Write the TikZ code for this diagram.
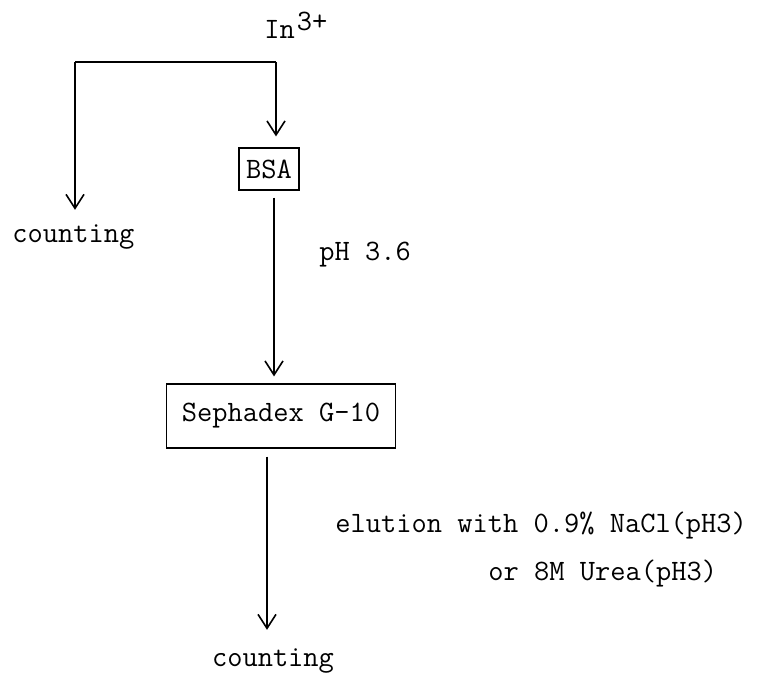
\documentclass[tikz,border=0pt]{standalone}
\usetikzlibrary{arrows.meta}
\begin{document}
\begin{tikzpicture}[x=0.5pt,y=-0.5pt,
  every node/.style={font=\fontsize{14.8}{17}\selectfont\ttfamily,inner sep=0pt},
  box/.style={draw,line width=0.6pt,inner xsep=3.5pt},
  ln/.style={line width=0.8pt},
  arr/.style={ln,-{Straight Barb[length=7pt,width=9pt,line width=0.8pt]}}]
\useasboundingbox (0,0) rectangle (759,681);
\node[anchor=base west] (in) at (264,38) {In\kern1pt\raisebox{0.6ex}{3+}};
\coordinate (tl) at (75,62);
\coordinate (tr) at (276,62);
\node[anchor=base west] (c1) at (12,242) {counting};
\node[box,minimum width=30pt,minimum height=21pt] (bsa) at (269,169) {BSA};
\node[anchor=base west] (ph) at (319,260) {pH 3.6};
\node[box,minimum width=114.5pt,minimum height=32pt] (seph) at (281,416) {Sephadex G-10};
\node[anchor=base west] (el) at (335,532) {elution with 0.9\% NaCl(pH3)};
\node[anchor=base west] (or) at (488,580) {or 8M Urea(pH3)};
\node[anchor=base] (c2) at (273,666) {counting};
\draw[ln] (tl) -- (tr);
\draw[arr] (tl) -- (tl |- c1.north) [shorten >=7pt];
\draw[arr] (tr) -- (tr |- bsa.north) [shorten >=5.5pt];
\draw[arr,shorten <=3.5pt,shorten >=3.5pt] ([xshift=2.5pt]bsa.south) -- ([xshift=2.5pt]bsa.south |- seph.north);
\draw[arr,shorten <=4pt,shorten >=9pt] ([xshift=-7pt]seph.south) -- ([xshift=-7pt]seph.south |- c2.north);
\end{tikzpicture}
\end{document}
